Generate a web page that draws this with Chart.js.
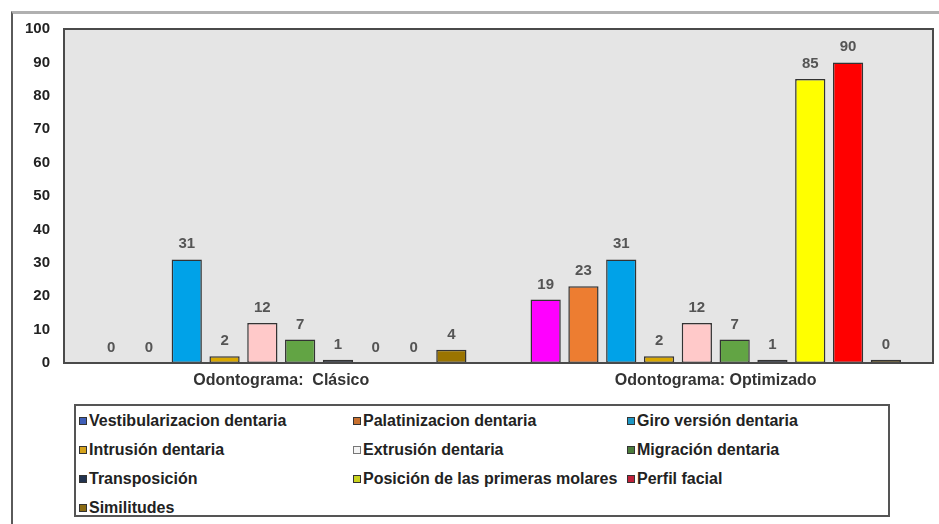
<!DOCTYPE html>
<html>
<head>
<meta charset="utf-8">
<script src="https://cdn.jsdelivr.net/npm/chart.js@4.4.1/dist/chart.umd.min.js"></script>
<style>
  html, body { margin: 0; padding: 0; background: #ffffff; }
  body { width: 939px; height: 524px; position: relative; overflow: hidden; font-family: "Liberation Sans", Arial, sans-serif; }
  #frame { position: absolute; left: 11px; top: 11px; width: 940px; height: 520px; border-left: 2px solid #5a5a5a; border-top: 3px solid #b0b0b0; }
  #wrap { position: absolute; left: 0; top: 0; width: 939px; height: 400px; }
  #legend { position: absolute; left: 74px; top: 404px; width: 812px; height: 109px; border: 2px solid #555; background: #fff;
            display: grid; grid-template-columns: 274px 274px 264px; grid-auto-rows: 29px; }
  .item { display: flex; align-items: center; padding-left: 3px; white-space: nowrap; font-weight: bold; font-size: 16px; color: #222; }
  .sw { width: 6px; height: 6px; border: 1px solid #333; margin-right: 2px; flex: none; }
</style>
</head>
<body>
<div id="frame"></div>
<div id="wrap"><canvas id="c" width="939" height="400"></canvas></div>
<div id="legend"></div>
<script>
const categories = ['Odontograma:  Clásico', 'Odontograma: Optimizado'];
const seriesNames = [
  'Vestibularizacion dentaria', 'Palatinizacion dentaria', 'Giro versión dentaria',
  'Intrusión dentaria', 'Extrusión dentaria', 'Migración dentaria',
  'Transposición', 'Posición de las primeras molares', 'Perfil facial', 'Similitudes'
];
const clasico    = [0, 0, 31, 2, 12, 7, 1, 0, 0, 4];
const optimizado = [19, 23, 31, 2, 12, 7, 1, 85, 90, 1];
const optimizadoShown = ['19', '23', '31', '2', '12', '7', '1', '85', '90', '0'];
const seriesColors = ['#ff00ff', '#ed7d31', '#00a2e8', '#d9a800', '#ffc9c9', '#62a444', '#1b2a4a', '#ffff00', '#ff0000', '#9a7400'];
const swatchColors = ['#3f5fb8', '#c8702e', '#1f97c4', '#d4a21c', '#f4f4f4', '#4c7c3c', '#22334f', '#c9d21e', '#c0203a', '#8a6a12'];
const yTicks = [0, 10, 20, 30, 40, 50, 60, 70, 80, 90, 100];

const datasets = seriesNames.map((name, i) => ({
  label: name,
  data: [clasico[i], optimizado[i]],
  backgroundColor: seriesColors[i],
  borderColor: '#333333',
  borderWidth: 1.5,
  borderSkipped: false,
  categoryPercentage: 0.87,
  barPercentage: 0.8
}));

const plotFrame = {
  id: 'plotFrame',
  beforeDraw(chart) {
    const a = chart.chartArea, ctx = chart.ctx;
    ctx.save();
    ctx.fillStyle = '#e5e5e5';
    ctx.fillRect(a.left, a.top, a.right - a.left, a.bottom - a.top);
    ctx.restore();
  },
  afterDatasetsDraw(chart) {
    const a = chart.chartArea, ctx = chart.ctx;
    ctx.save();
    ctx.strokeStyle = '#4a4a4a';
    ctx.lineWidth = 2;
    ctx.strokeRect(a.left, a.top, a.right - a.left, a.bottom - a.top);
    ctx.font = 'bold 15px "Liberation Sans", Arial, sans-serif';
    ctx.fillStyle = '#555555';
    ctx.textAlign = 'center';
    ctx.textBaseline = 'alphabetic';
    chart.data.datasets.forEach((ds, di) => {
      const meta = chart.getDatasetMeta(di);
      meta.data.forEach((bar, idx) => {
        const txt = idx === 1 ? optimizadoShown[di] : String(ds.data[idx]);
        ctx.fillText(txt, bar.x, bar.y - 11);
      });
    });
    ctx.restore();
  }
};

new Chart(document.getElementById('c'), {
  type: 'bar',
  data: { labels: categories, datasets },
  options: {
    responsive: false,
    devicePixelRatio: 1,
    animation: false,
    layout: { padding: { top: 29, right: 6, bottom: 0, left: 0 } },
    plugins: { legend: { display: false }, tooltip: { enabled: false } },
    scales: {
      x: {
        grid: { display: false, drawTicks: false },
        border: { display: false },
        ticks: { color: '#333', padding: 8, font: { family: '"Liberation Sans", Arial, sans-serif', size: 16, weight: 'bold' } },
        afterFit(s) { s.height = 37; }
      },
      y: {
        min: 0, max: 100,
        grid: { display: false, drawTicks: false },
        border: { display: false },
        afterBuildTicks(s) { s.ticks = yTicks.map(v => ({ value: v })); },
        ticks: { color: '#222', padding: 14, font: { family: '"Liberation Sans", Arial, sans-serif', size: 15, weight: 'bold' } },
        afterFit(s) { s.width = 64; }
      }
    }
  },
  plugins: [plotFrame]
});

const leg = document.getElementById('legend');
seriesNames.forEach((name, i) => {
  const it = document.createElement('div');
  it.className = 'item';
  const sw = document.createElement('span');
  sw.className = 'sw';
  sw.style.background = swatchColors[i];
  if (i === 4) sw.style.borderColor = '#777';
  it.appendChild(sw);
  it.appendChild(document.createTextNode(name));
  leg.appendChild(it);
});
</script>
</body>
</html>
